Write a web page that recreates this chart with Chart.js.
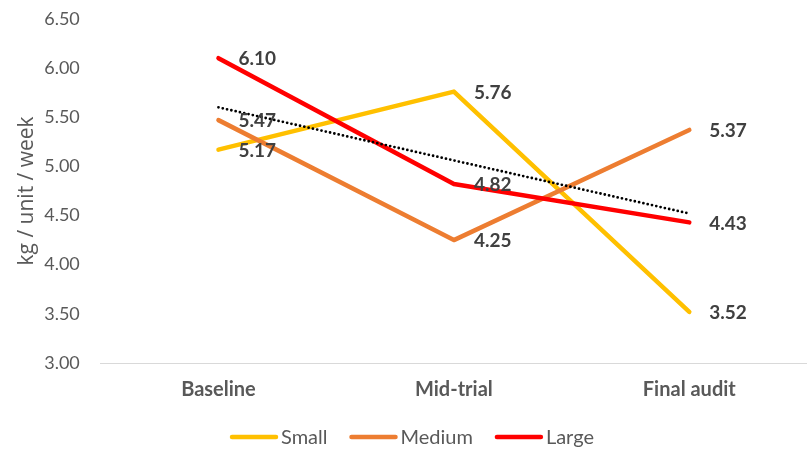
<!DOCTYPE html>
<html>
<head>
<meta charset="utf-8">
<script src="https://cdn.jsdelivr.net/npm/chart.js@4"></script>
<style>
  html,body{margin:0;padding:0;background:#fff;}
  #wrap{width:807px;height:450px;overflow:hidden;}
</style>
</head>
<body>
<div id="wrap"><canvas id="chart" width="807" height="450"></canvas></div>
<script>
const stages = ["Baseline", "Mid-trial", "Final audit"];
const small = [5.17, 5.76, 3.52];
const medium = [5.47, 4.25, 5.37];
const large = [6.10, 4.82, 4.43];
const trend = [5.60, 5.06, 4.52];
const yTicks = [3.00, 3.50, 4.00, 4.50, 5.00, 5.50, 6.00, 6.50];

const font = "Lato, 'Open Sans', sans-serif";
const grey = "#595959";

/* value labels to the right of each point */
const pointLabels = {
  id: "pointLabels",
  afterDatasetsDraw(chart) {
    const c = chart.ctx;
    c.save();
    c.font = "bold 19px " + font;
    c.fillStyle = "#404040";
    c.textAlign = "left";
    c.textBaseline = "middle";
    chart.data.datasets.forEach((ds, i) => {
      if (!ds.showValues) return;
      chart.getDatasetMeta(i).data.forEach((pt, j) => {
        c.fillText(ds.data[j].toFixed(2), pt.x + 20, pt.y + 1);
      });
    });
    c.restore();
  }
};

/* legend row under the axis: short line sample + name */
const lineLegend = {
  id: "lineLegend",
  afterDraw(chart) {
    const c = chart.ctx;
    const items = chart.data.datasets.filter(ds => ds.showValues);
    c.save();
    c.font = "20px " + font;
    const sample = 48, gap = 3, space = 22;
    const widths = items.map(ds => sample + gap + c.measureText(ds.label).width);
    const total = widths.reduce((a, b) => a + b, 0) + space * (items.length - 1);
    let x = 412 - total / 2;
    const y = 437;
    c.textBaseline = "middle";
    c.lineCap = "round";
    items.forEach((ds, i) => {
      c.strokeStyle = ds.borderColor;
      c.lineWidth = 4.5;
      c.beginPath();
      c.moveTo(x + 2, y);
      c.lineTo(x + sample - 2, y);
      c.stroke();
      c.fillStyle = grey;
      c.fillText(ds.label, x + sample + gap, y + 1);
      x += widths[i] + space;
    });
    c.restore();
  }
};

const line = (label, data, color, order) => ({
  label, data, order,
  borderColor: color, backgroundColor: color,
  borderWidth: 4.5, pointRadius: 0, tension: 0,
  borderCapStyle: "round", borderJoinStyle: "round",
  showValues: true
});

new Chart(document.getElementById("chart"), {
  type: "line",
  data: {
    labels: stages,
    datasets: [
      line("Small", small, "#FFC000", 3),
      line("Medium", medium, "#ED7D31", 2),
      line("Large", large, "#FF0000", 1),
      {
        label: "Trend", data: trend, order: 0,
        borderColor: "#000", borderWidth: 2.8, borderDash: [0, 4.4],
        borderCapStyle: "round", pointRadius: 0, tension: 0
      }
    ]
  },
  options: {
    responsive: false,
    animation: false,
    layout: { padding: { top: 0, right: -9, left: 14, bottom: 41 } },
    plugins: {
      tooltip: { enabled: false },
      legend: { display: false }
    },
    scales: {
      x: {
        offset: true,
        grid: { display: false },
        border: { color: "#d9d9d9", width: 1 },
        ticks: { font: { family: font, size: 20, weight: "bold" }, color: grey, padding: 7 }
      },
      y: {
        min: yTicks[0], max: yTicks[yTicks.length - 1],
        afterBuildTicks: axis => { axis.ticks = yTicks.map(v => ({ value: v })); },
        grid: { display: false },
        border: { display: false },
        ticks: { font: { family: font, size: 18, lineHeight: 0.65 }, color: grey, padding: 13, callback: v => v.toFixed(2) },
        title: {
          display: true, text: "kg / unit / week",
          font: { family: "'Open Sans', sans-serif", size: 21 }, color: grey,
          padding: { top: 0, bottom: -8 }
        }
      }
    }
  },
  plugins: [pointLabels, lineLegend]
});
</script>
</body>
</html>
